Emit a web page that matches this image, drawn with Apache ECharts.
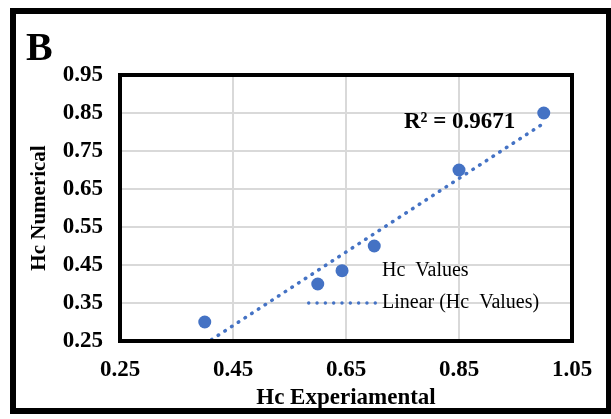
<!DOCTYPE html>
<html>
<head>
<meta charset="utf-8">
<script src="https://cdn.jsdelivr.net/npm/echarts@6/dist/echarts.min.js"></script>
<style>
html,body{margin:0;padding:0;background:#fff;}
#c{width:611px;height:419px;}
</style>
</head>
<body>
<div id="c"></div>
<script>
// Data
const hcExperimental = [0.40, 0.60, 0.643, 0.70, 0.85, 1.00];
const hcNumerical    = [0.30, 0.40, 0.435, 0.50, 0.70, 0.85];
// Linear trendline endpoints
const trendX = [0.40, 1.00];
const trendY = [0.242, 0.823];
const xTicks = [0.25, 0.45, 0.65, 0.85, 1.05];
const yTicks = [0.25, 0.35, 0.45, 0.55, 0.65, 0.75, 0.85, 0.95];
const rSquaredText = 'R² = 0.9671';
const seriesName = 'Hc  Values';
const trendName = 'Linear (Hc  Values)';

const FONT = '"Liberation Serif", "Times New Roman", serif';
const BLUE = '#4472C4';

// dotted-line legend icon (9 small round dots)
function dottedIcon(n, step, r) {
  let p = '';
  for (let i = 0; i < n; i++) {
    const cx = r + i * step;
    p += 'M' + (cx - r) + ',' + r + 'a' + r + ',' + r + ' 0 1,0 ' + (2 * r) + ',0' +
         'a' + r + ',' + r + ' 0 1,0 ' + (-2 * r) + ',0z';
  }
  return 'path://' + p;
}

const chart = echarts.init(document.getElementById('c'), null, {renderer: 'canvas'});
chart.setOption({
  animation: false,
  backgroundColor: '#fff',
  textStyle: {fontFamily: FONT},
  grid: {
    left: 120, right: 39, top: 75, bottom: 78,
    show: true, borderColor: '#000', borderWidth: 4, backgroundColor: 'transparent', z: 3
  },
  xAxis: {
    type: 'value', min: xTicks[0], max: xTicks[xTicks.length - 1], interval: 0.2,
    name: 'Hc Experiamental', nameLocation: 'middle', nameGap: 45,
    nameTextStyle: {fontFamily: FONT, fontWeight: 'bold', fontSize: 23, color: '#000'},
    axisLine: {show: true, onZero: false, lineStyle: {color: '#999', width: 1}},
    axisTick: {show: false},
    splitLine: {show: true, lineStyle: {color: '#d9d9d9', width: 2}},
    axisLabel: {fontFamily: FONT, fontWeight: 'bold', fontSize: 23, color: '#000', margin: 18,
      formatter: v => v.toFixed(2)}
  },
  yAxis: {
    type: 'value', min: yTicks[0], max: yTicks[yTicks.length - 1], interval: 0.1,
    name: 'Hc Numerical', nameLocation: 'middle', nameGap: 70, nameRotate: 90,
    nameTextStyle: {fontFamily: FONT, fontWeight: 'bold', fontSize: 21, color: '#000'},
    axisLine: {show: true, onZero: false, lineStyle: {color: '#999', width: 1}},
    axisTick: {show: false},
    splitLine: {show: true, lineStyle: {color: '#d9d9d9', width: 2}},
    axisLabel: {fontFamily: FONT, fontWeight: 'bold', fontSize: 23, color: '#000', margin: 17,
      formatter: v => v.toFixed(2)}
  },
  legend: {
    show: true, orient: 'vertical', left: 302, top: 256,
    itemWidth: 70, itemHeight: 14, itemGap: 12,
    textStyle: {fontFamily: FONT, fontSize: 20, color: '#000'},
    data: [
      {name: seriesName, icon: 'circle', itemStyle: {opacity: 0}},
      {name: trendName, icon: dottedIcon(9, 8.4, 1.75), itemStyle: {color: BLUE}}
    ]
  },
  series: [
    {
      name: trendName, type: 'line', clip: true, symbol: 'none',
      data: trendX.map((x, i) => [x, trendY[i]]),
      lineStyle: {color: BLUE, width: 3.5, type: [0.5, 7.5], cap: 'round'},
      itemStyle: {color: BLUE},
      z: 2
    },
    {
      name: seriesName, type: 'scatter', symbol: 'circle', symbolSize: 13,
      data: hcExperimental.map((x, i) => [x, hcNumerical[i]]),
      itemStyle: {color: BLUE, opacity: 1},
      z: 4
    }
  ],
  graphic: [
    {type: 'rect', shape: {x: 13, y: 11, width: 596, height: 400},
     style: {fill: 'none', stroke: '#000', lineWidth: 6}, z: 10},
    {type: 'text', left: 26, top: 30,
     style: {text: 'B', font: 'bold 40px ' + FONT, fill: '#000'}, z: 10},
    {type: 'text', left: 404, top: 111,
     style: {text: rSquaredText, font: 'bold 23px ' + FONT, fill: '#000'}, z: 10}
  ]
});
</script>
</body>
</html>
